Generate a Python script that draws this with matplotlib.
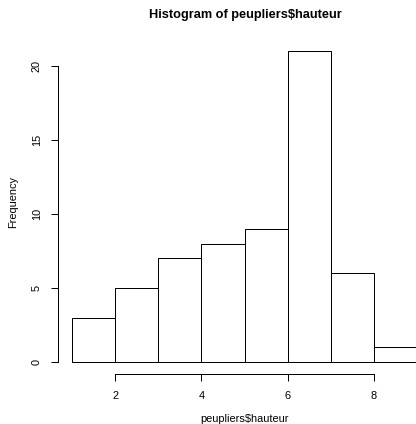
import numpy as np
import matplotlib
matplotlib.use("Agg")
import matplotlib.pyplot as plt

# histogram of peupliers$hauteur (R default breaks)
breaks = [1, 2, 3, 4, 5, 6, 7, 8, 9]
counts = [3, 5, 7, 8, 9, 21, 6, 1]
xticks = [2, 4, 6, 8]
yticks = [0, 5, 10, 15, 20]

W, H, DPI = 416, 424, 100
px = 72.0 / DPI  # one pixel in points

plt.rcParams["font.family"] = ["Liberation Sans", "DejaVu Sans"]

fig = plt.figure(figsize=(W / DPI, H / DPI), dpi=DPI)
# R plot region (xlim/ylim extended 4%), partly beyond the right edge
left, right = 58.2, 431.0
top, bottom = 38.8, 374.4
ax = fig.add_axes([left / W, 1 - bottom / H, (right - left) / W, (bottom - top) / H])

edges = np.array(breaks, dtype=float)
ax.bar(edges[:-1], counts, width=np.diff(edges), align="edge",
       facecolor="white", edgecolor="black", linewidth=1.0 * px)

span_x = edges[-1] - edges[0]
ax.set_xlim(edges[0] - 0.04 * span_x, edges[-1] + 0.04 * span_x)
ax.set_ylim(-0.04 * max(counts), max(counts) * 1.04)

for s in ("top", "right"):
    ax.spines[s].set_visible(False)
ax.spines["left"].set_bounds(yticks[0], yticks[-1])
ax.spines["bottom"].set_bounds(xticks[0], xticks[-1])
for s in ("left", "bottom"):
    ax.spines[s].set_linewidth(1.0 * px)

ax.set_xticks(xticks)
ax.set_yticks(yticks)
ax.set_yticklabels([str(v) for v in yticks], rotation=90, va="center")
ax.tick_params(axis="both", direction="out", length=7.2 * px, width=1.0 * px,
               labelsize=11 * px, color="black")
ax.tick_params(axis="x", pad=9.0 * px)
ax.tick_params(axis="y", pad=9.0 * px)

fig.text(245.5 / W, 1 - 15 / H, "Histogram of peupliers$hauteur", ha="center", va="center",
         fontsize=12.8 * px, fontweight="bold")
fig.text(245 / W, 1 - 419 / H, "peupliers$hauteur", ha="center", va="center", fontsize=11 * px)
fig.text(13 / W, 1 - 202 / H, "Frequency", ha="center", va="center", rotation=90, fontsize=11 * px)

fig.savefig("out.png", dpi=DPI)
